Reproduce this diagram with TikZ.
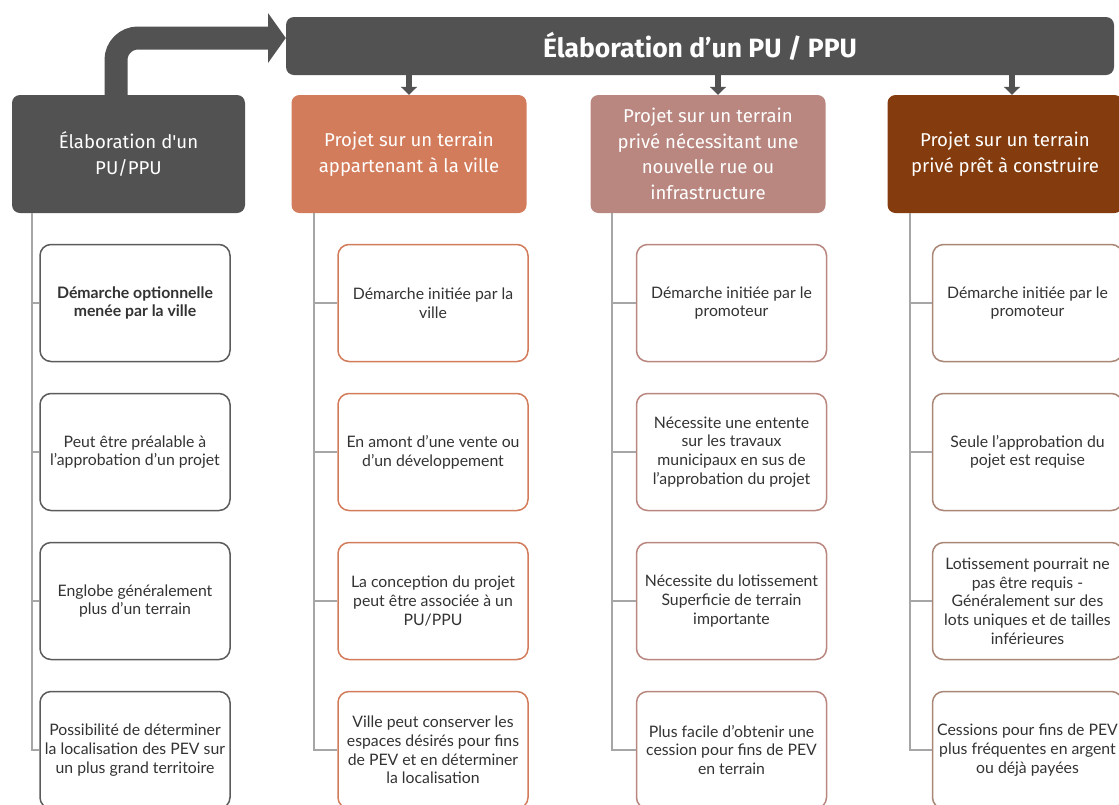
\documentclass[tikz,border=0pt]{standalone}
\usepackage{fontspec}
\setmainfont{Lato}
\newfontfamily\hdrfont{Fira Sans}
\usetikzlibrary{arrows.meta}

\definecolor{slate}{HTML}{525252}
\definecolor{clay}{HTML}{D27C5B}
\definecolor{rosewood}{HTML}{B9877F}
\definecolor{rust}{HTML}{843C0E}
\definecolor{rustline}{HTML}{A98676}
\definecolor{stem}{HTML}{A6A6A6}

\tikzset{
  hdr/.style={rounded corners=8pt, minimum width=235pt, minimum height=118pt, inner sep=0pt,
    align=center, text=white, font=\hdrfont\fontsize{18.6}{25.5}\selectfont},
  card/.style={rounded corners=11pt, line width=1.5pt, fill=white, minimum width=190pt,
    minimum height=117pt, inner sep=0pt, align=center, text=black!80,
    font=\fontsize{15.8}{18.7}\selectfont},
  conn/.style={stem, line width=1.5pt},
  down/.style={slate, line width=6pt, -{Triangle[width=16pt 0 0,length=8pt 0 0]}}
}

\begin{document}
\begin{tikzpicture}[x=1pt,y=-1pt]
\useasboundingbox (0,0) rectangle (1119,804);
\clip (0,0) rectangle (1119,804);

% banner and headers
\node[fill=slate, rounded corners=8pt, minimum width=828pt, minimum height=58pt, text=white,
  font=\hdrfont\bfseries\fontsize{26.5}{30}\selectfont] (top) at (700,46) {Élaboration d’un PU / PPU};

\node[hdr, fill=slate, minimum width=233pt] (h1) at (128.5,154) {Élaboration d'un\\PU/PPU};
\node[hdr, fill=clay] (h2) at (409,154) {Projet sur un terrain\\appartenant à la ville};
\node[hdr, fill=rosewood] (h3) at (708,154) {Projet sur un terrain\\privé nécessitant une\\nouvelle rue ou\\infrastructure};
\node[hdr, fill=rust] (h4) at (1005,154) {Projet sur un terrain\\privé prêt à construire};

% bent arrow
\coordinate (bend) at (116,38);
\coordinate (tipbase) at (268,38);
\draw[slate, line width=23pt, rounded corners=22pt] (h1.north -| bend) |- (tipbase);
\fill[slate] (268,13) -- (top.west |- tipbase) -- (268,63) -- cycle;

% down arrows
\foreach \c/\ax in {2/409,3/718,4/1012}
  {\coordinate (a\c) at (\ax,0);
  \draw[down] (top.south -| a\c) -- (h\c.north -| a\c);}

% cards
\foreach \r/\txt in {1/{\textbf{Démarche optionnelle}\\\textbf{menée par la ville}},
  2/{Peut être préalable à\\l'approbation d'un projet},
  3/{Englobe généralement\\plus d'un terrain},
  4/{Possibilité de déterminer\\la localisation des PEV sur\\un plus grand territoire}}
  \node[card, draw=slate!95] (b1\r) at (135,{303+149*(\r-1)}) {\txt};

\foreach \r/\txt in {1/{Démarche initiée par la\\ville},
  2/{En amont d'une vente ou\\d'un développement},
  3/{La conception du projet\\peut être associée à un\\PU/PPU},
  4/{Ville peut conserver les\\espaces désirés pour fins\\de PEV et en déterminer\\la localisation}}
  \node[card, draw=clay] (b2\r) at (433,{303+149*(\r-1)}) {\txt};

\foreach \r/\txt in {1/{Démarche initiée par le\\promoteur},
  2/{Nécessite une entente\\sur les travaux\\municipaux en sus de\\l'approbation du projet},
  3/{Nécessite du lotissement\\Superficie de terrain\\importante},
  4/{Plus facile d'obtenir une\\cession pour fins de PEV\\en terrain}}
  \node[card, draw=rosewood] (b3\r) at (731.5,{303+149*(\r-1)}) {\txt};

\foreach \r/\txt in {1/{Démarche initiée par le\\promoteur},
  2/{Seule l'approbation du\\pojet est requise},
  3/{Lotissement pourrait ne\\pas être requis -\\Généralement sur des\\lots uniques et de tailles\\inférieures},
  4/{Cessions pour fins de PEV\\plus fréquentes en argent\\ou déjà payées}}
  \node[card, draw=rustline] (b4\r) at (1027.5,{303+149*(\r-1)}) {\txt};

% connectors
\foreach \c/\lx in {1/32,2/314,3/612,4/910}
  {\coordinate (v\c) at (\lx,0);
  \draw[conn] (h\c.south -| v\c) |- (b\c4.west);
  \foreach \r in {1,2,3}
    \draw[conn] (v\c |- b\c\r.west) -- (b\c\r.west);}
\end{tikzpicture}
\end{document}
